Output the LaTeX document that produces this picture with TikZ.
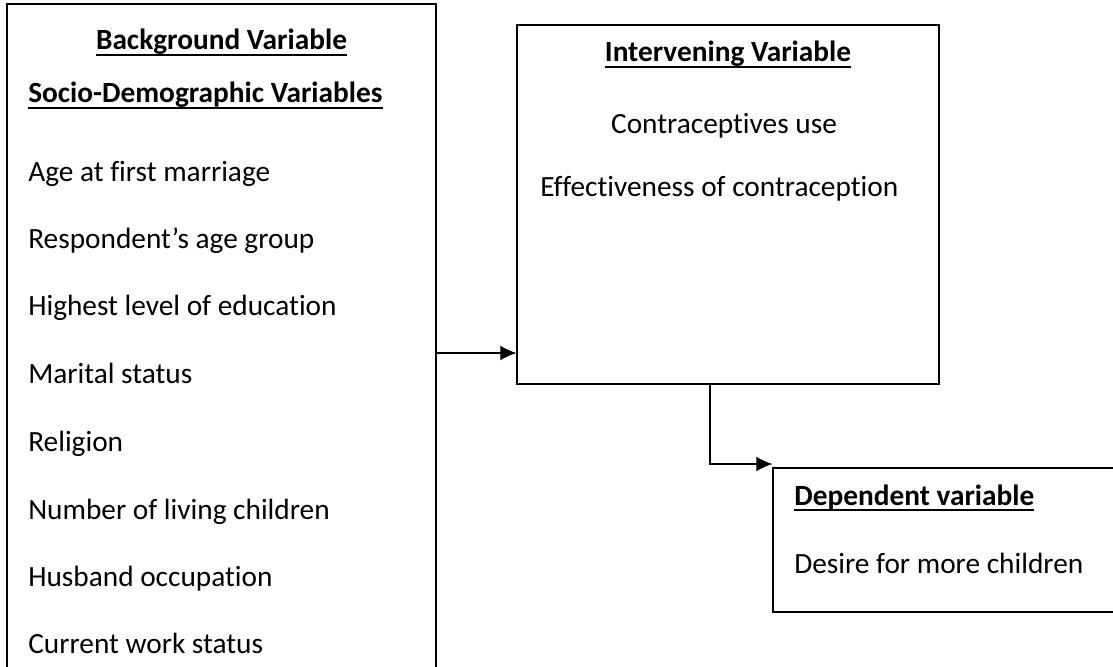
\documentclass[tikz,border=0pt]{standalone}
\usepackage{fontspec}
\setmainfont{Carlito}[Ligatures=NoCommon]
\usetikzlibrary{arrows.meta}

\newcommand{\ulhead}[1]{\setbox0\hbox{#1}\rlap{\rule[-4.2pt]{\wd0}{1.3pt}}\box0}

\tikzset{
    varbox/.style={draw, line width=0.9pt, rectangle, inner sep=0pt},
    item/.style={anchor=base west, inner sep=0pt, font=\fontsize{22}{26}\selectfont},
    head/.style={item, font=\fontsize{22}{26}\selectfont\bfseries},
    link/.style={line width=0.8pt, -{Latex[length=12pt, width=11pt]}},
}

\begin{document}
\begin{tikzpicture}[x=0.75pt, y=-0.75pt]
    \useasboundingbox (0,0) rectangle (1113,667);

    % the three boxes
    \node[varbox, minimum width=321.75pt, minimum height=522pt] (lbox) at (221.5,352) {};
    \node[varbox, minimum width=316.5pt, minimum height=269.25pt] (mbox) at (728,204.5) {};
    \node[varbox, minimum width=275.25pt, minimum height=108pt] (rbox) at (956.5,540) {};

    % background variables
    \node[head, anchor=base] (bghead) at (221.5,50) {\ulhead{Background Variable}};
    \node[head] (sochead) at (28,103) {\ulhead{Socio-Demographic Variables}};
    \node[item] (age)  at (28,181) {Age at first marriage};
    \node[item] (grp)  at (28,248) {Respondent’s age group};
    \node[item] (edu)  at (28,315) {Highest level of education};
    \node[item] (mar)  at (28,383) {Marital status};
    \node[item] (rel)  at (28,451) {Religion};
    \node[item] (kids) at (28,519) {Number of living children};
    \node[item] (occ)  at (28,586) {Husband occupation};
    \node[item] (work) at (28,653) {Current work status};

    % intervening variable
    \node[head, anchor=base] (inthead) at (728,62) {\ulhead{Intervening Variable}};
    \node[item, anchor=base] (use) at (724,133) {Contraceptives use};
    \node[item] (eff) at (540,196) {Effectiveness of contraception};

    % dependent variable
    \node[head] (dephead) at (794,505) {\ulhead{Dependent variable}};
    \node[item] (desire) at (794,573) {Desire for more children};

    \draw[link] (lbox.east |- 0,353) -- (mbox.west |- 0,353);
    \draw[link] (mbox.south -| 710,0) |- (rbox.west |- 0,464);
\end{tikzpicture}
\end{document}
